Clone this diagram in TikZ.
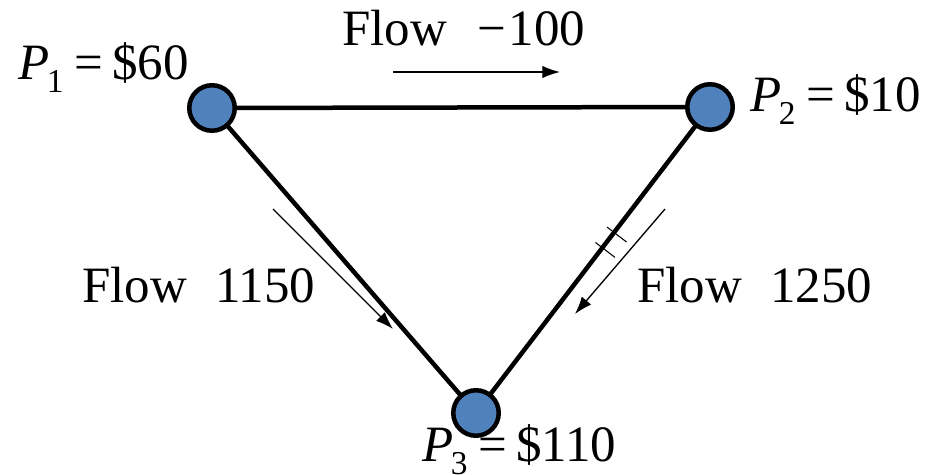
\documentclass[tikz,border=0pt]{standalone}
\usepackage{fontspec}
\setmainfont{Liberation Serif}
\usetikzlibrary{arrows.meta,calc}
\newcommand{\price}[2]{{\itshape P}\hspace{-0.05em}\raisebox{-0.25em}{\fontsize{19}{19}\selectfont #1}\hspace{0.22em}=\hspace{0.17em}\$#2}
\begin{document}
\begin{tikzpicture}[x=0.02cm,y=-0.02cm,
			bus/.style={circle, draw=black, line width=0.09cm, fill={rgb,255:red,79;green,129;blue,189}, minimum size=0.91cm, inner sep=0pt},
			line/.style={line width=0.09cm, black},
			myarrow/.style={-{Latex[length=10pt,width=7pt]}, line width=0.75pt, black},
			lbl/.style={anchor=base west, inner sep=0pt, font=\fontsize{29}{34}\selectfont}
			]
			\useasboundingbox (0,0) rectangle (940,475);
			\coordinate (c1) at (212,108);
			\coordinate (c2) at (710,107);
			\coordinate (c3) at (476,413);
			\draw[line] (c1) -- (c2);
			\draw[line] (c1) -- (c3);
			\draw[line] (c2) -- (c3);
			\node[bus] (p1) at (c1) {};
			\node[bus] (p2) at (c2) {};
			\node[bus] (p3) at (c3) {};
			% ticks on the right line
			\coordinate (t1) at ($(c2)!0.41!(c3)$);
			\coordinate (t2) at ($(c2)!0.46!(c3)$);
			\draw[line width=0.6pt] ($(t1)!9pt!90:(c3)$) -- ($(t1)!5pt!-90:(c3)$);
			\draw[line width=0.6pt] ($(t2)!9pt!90:(c3)$) -- ($(t2)!5pt!-90:(c3)$);
			% price labels
			\node[lbl] (lab1) at (18,80) {\price{1}{60}};
			\node[lbl] (lab2) at (750,112) {\price{2}{10}};
			\node[lbl] (lab3) at (422,462) {\price{3}{110}};
			% flow labels
			\node[lbl] (f12) at (342,46) {Flow\hspace{0.6em}\textminus\hspace{0.05em}100};
			\node[lbl] (f13) at (82,303) {Flow\hspace{0.55em}1150};
			\node[lbl] (f23) at (637,303) {Flow\hspace{0.55em}1250};
			\coordinate (a12s) at (393,72);
			\coordinate (a12e) at (560,72);
			\coordinate (a13s) at (273,209);
			\coordinate (a13e) at (393,329);
			\coordinate (a23s) at (665,209);
			\coordinate (a23e) at (575,314);
			\draw[myarrow] (a12s) -- (a12e);
			\draw[myarrow] (a13s) -- (a13e);
			\draw[myarrow] (a23s) -- (a23e);
		\end{tikzpicture}
\end{document}
